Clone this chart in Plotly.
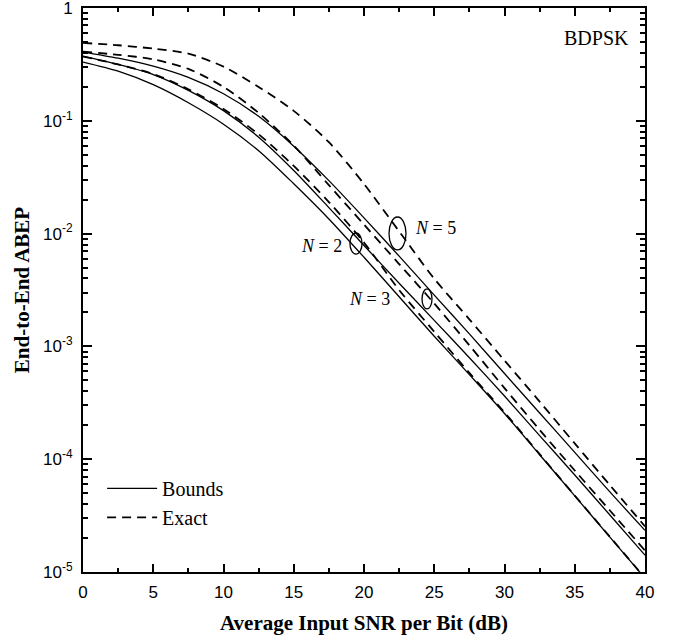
import math
import plotly.graph_objects as go

# ---------------- data ----------------
snr_db = [0, 2.5, 5, 7.5, 10, 12.5, 15, 17.5, 20, 22.5, 25, 27.5, 30, 32.5, 35, 37.5, 40]

# Bounds (solid)
bound_n2 = [0.332, 0.2754, 0.2089, 0.1445, 0.0933, 0.0543, 0.02767, 0.01349, 0.006166,
            0.002754, 0.00123, 5.62e-4, 2.54e-4, 1.096e-4, 4.73e-5, 2.04e-5, 8.81e-6]
bound_n3 = [0.375, 0.316, 0.257, 0.1862, 0.123, 0.0716, 0.0363, 0.017, 0.00785,
            0.00363, 0.0017, 7.94e-4, 3.63e-4, 1.62e-4, 7.24e-5, 3.2e-5, 1.41e-5]
bound_n5 = [0.407, 0.359, 0.3055, 0.2427, 0.1738, 0.1096, 0.0596, 0.0295, 0.0138,
            0.00631, 0.00285, 0.00129, 5.75e-4, 2.57e-4, 1.15e-4, 5.13e-5, 2.34e-5]

# Exact (dashed)
exact_n2 = [0.3715, 0.316, 0.26, 0.1905, 0.1274, 0.0759, 0.0398, 0.01905, 0.00832,
            0.00316, 0.00135, 5.82e-4, 2.6e-4, 1.109e-4, 4.76e-5, 2.05e-5, 8.85e-6]
exact_n3 = [0.41, 0.3846, 0.3508, 0.2884, 0.1995, 0.1175, 0.0603, 0.0269, 0.01202,
            0.00537, 0.0024, 0.001023, 4.27e-4, 1.82e-4, 7.94e-5, 3.51e-5, 1.55e-5]
exact_n5 = [0.4898, 0.4677, 0.4365, 0.3936, 0.302, 0.1995, 0.1225, 0.0646, 0.02754,
            0.01047, 0.00398, 0.001738, 7.5e-4, 3.24e-4, 1.38e-4, 5.89e-5, 2.54e-5]

x_ticks = [0, 5, 10, 15, 20, 25, 30, 35, 40]
x_minor = [2.5, 7.5, 12.5, 17.5, 22.5, 27.5, 32.5, 37.5]
y_ticks = [1, 1e-1, 1e-2, 1e-3, 1e-4, 1e-5]
y_ticktext = ["1", "10<sup>-1</sup>", "10<sup>-2</sup>", "10<sup>-3</sup>",
              "10<sup>-4</sup>", "10<sup>-5</sup>"]

# ellipse annotations: (label, x-range dB, y-range ABEP)
ellipses = [
    ("N2", (19.0, 19.86), (0.00659, 0.01012)),
    ("N5", (21.78, 22.99), (0.00716, 0.01403)),
    ("N3", (24.13, 24.84), (0.002147, 0.00323)),
]
# text labels: (text, x dB, ABEP)
labels = [
    ("<i>N</i> = 2", 17.0, 0.00776),
    ("<i>N</i> = 5", 25.1, 0.0112),
    ("<i>N</i> = 3", 20.4, 0.00263),
]

SERIF = "Liberation Serif, Times New Roman, serif"
SANS = "Liberation Sans, Arial, sans-serif"

fig = go.Figure()

solid_series = [bound_n2, bound_n3, bound_n5]
dashed_series = [exact_n2, exact_n3, exact_n5]

for i, ys in enumerate(solid_series):
    fig.add_trace(go.Scatter(
        x=snr_db, y=ys, mode="lines", name="Bounds",
        line=dict(color="black", width=1.3, shape="spline", smoothing=0.8),
        showlegend=(i == 0), legendrank=1,
    ))
for i, ys in enumerate(dashed_series):
    fig.add_trace(go.Scatter(
        x=snr_db, y=ys, mode="lines", name="Exact",
        line=dict(color="black", width=1.8, dash="9px,6px", shape="spline", smoothing=0.8),
        showlegend=(i == 0), legendrank=2,
    ))

for _, (xa, xb), (ya, yb) in ellipses:
    fig.add_shape(type="circle", xref="x", yref="y", x0=xa, x1=xb, y0=ya, y1=yb,
                  line=dict(color="black", width=1.3))

for txt, xv, yv in labels:
    fig.add_annotation(x=xv, y=math.log10(yv), xref="x", yref="y", text=txt,
                       showarrow=False, font=dict(family=SERIF, size=18, color="black"))

fig.add_annotation(x=0.975, y=0.947, xref="paper", yref="paper", text="BDPSK",
                   showarrow=False, xanchor="right", yanchor="middle",
                   font=dict(family=SERIF, size=20, color="black"))

fig.update_layout(
    width=678, height=640,
    margin=dict(l=83, r=33, t=8, b=68, autoexpand=False),
    paper_bgcolor="white", plot_bgcolor="white",
    showlegend=True,
    legend=dict(x=0.034, y=0.183, xanchor="left", yanchor="top",
                font=dict(family=SERIF, size=20, color="black"),
                bgcolor="rgba(0,0,0,0)", itemwidth=50, traceorder="normal"),
    xaxis=dict(
        range=[0, 40], tickvals=x_ticks, ticks="inside", ticklen=8, tickwidth=1.5,
        tickcolor="black", showline=True, linewidth=2, linecolor="black", mirror="ticks",
        showgrid=False, zeroline=False, ticklabelstandoff=4, automargin=False,
        ticklabeloverflow="allow",
        tickfont=dict(family=SANS, size=17, color="black"),
        minor=dict(tickvals=x_minor, ticks="inside", ticklen=4, tickwidth=1.5, tickcolor="black", showgrid=False),
        title=dict(text="<b>Average Input SNR per Bit (dB)</b>", standoff=14,
                   font=dict(family=SERIF, size=21, color="black")),
    ),
    yaxis=dict(
        type="log", range=[-5, 0], tickvals=y_ticks, ticktext=y_ticktext,
        ticks="inside", ticklen=9, tickwidth=1.5, tickcolor="black",
        showline=True, linewidth=2, linecolor="black", mirror="ticks",
        showgrid=False, zeroline=False, ticklabelstandoff=5, automargin=False,
        ticklabeloverflow="allow",
        tickfont=dict(family=SANS, size=17, color="black"),
        minor=dict(tickvals=[k * 10 ** d for d in range(-5, 0) for k in range(2, 10)],
                   ticks="inside", ticklen=5, tickwidth=1.5, tickcolor="black", showgrid=False),
        title=dict(text="<b>End-to-End ABEP</b>", standoff=8,
                   font=dict(family=SERIF, size=21, color="black")),
    ),
)

fig.write_html("out.html", config={"displayModeBar": False},
               post_script="document.body.style.margin='0px';")
